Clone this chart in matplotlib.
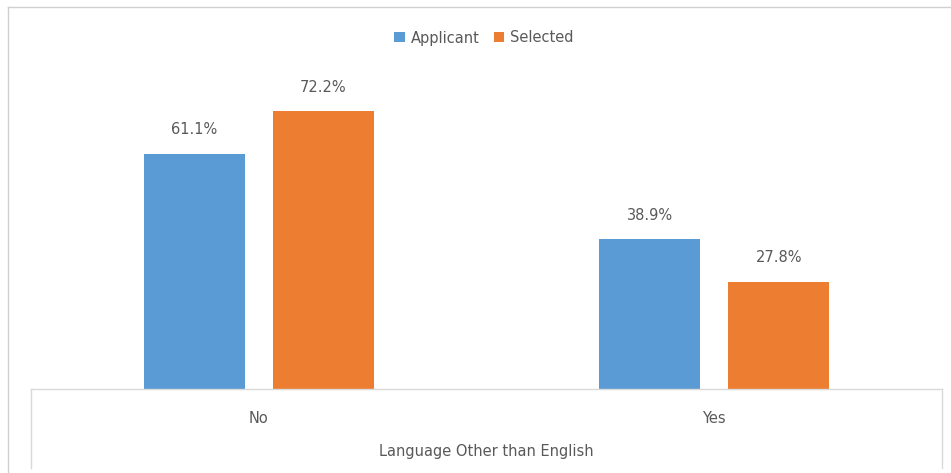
import matplotlib.pyplot as plt
import numpy as np
from matplotlib.lines import Line2D

# data
categories = ['No', 'Yes']
applicant = [61.1, 38.9]
selected = [72.2, 27.8]
series_names = ['Applicant', 'Selected']

blue = '#5B9BD5'
orange = '#ED7D31'
txt = '#595959'

W, H = 951, 473
fig = plt.figure(figsize=(W / 100, H / 100), dpi=100)

# axes placed in pixel terms (left 31, right 942, baseline 389, top 70)
ax = fig.add_axes([31 / W, (H - 389) / H, (942 - 31) / W, (389 - 70) / H])

x = np.arange(len(categories))
bw = 0.221
off = 0.1415
b1 = ax.bar(x - off, applicant, bw, color=blue, label=series_names[0])
b2 = ax.bar(x + off, selected, bw, color=orange, label=series_names[1])

for bars, vals in [(b1, applicant), (b2, selected)]:
    for b, v in zip(bars, vals):
        ax.annotate('%.1f%%' % v, (b.get_x() + b.get_width() / 2, v),
                    xytext=(0, 12), textcoords='offset points',
                    ha='center', va='bottom', fontsize=10.5, color=txt)

ax.set_xlim(-0.5, 1.5)
ax.set_ylim(0, (389 - 70) / 3.846)
ax.set_yticks([])
ax.set_xticks(x)
ax.set_xticklabels(categories, fontsize=10.5, color=txt)
ax.tick_params(axis='x', length=0, pad=16)
for s in ['top', 'left', 'right']:
    ax.spines[s].set_visible(False)
ax.spines['bottom'].set_color('#D9D9D9')
ax.spines['bottom'].set_linewidth(1)

ax.set_xlabel('Language Other than English', fontsize=10.5, color=txt, labelpad=13)

leg = fig.legend(handles=[b1, b2], labels=series_names, loc='center',
                 bbox_to_anchor=(484 / W, (H - 38) / H), ncol=2, frameon=False,
                 fontsize=10.5, handlelength=0.7, handleheight=0.7,
                 handletextpad=0.4, columnspacing=1.0)
for t in leg.get_texts():
    t.set_color(txt)

# inner box lines and outer chart border
def fline(x0, y0, x1, y1, c='#D9D9D9'):
    fig.add_artist(Line2D([x0 / W, x1 / W], [1 - y0 / H, 1 - y1 / H],
                          color=c, lw=1, transform=fig.transFigure))

fline(31, 389, 31, 468)
fline(942, 389, 942, 468)
fline(8, 7, 951, 7, '#D0D0D0')
fline(8, 7, 8, 473, '#D0D0D0')

fig.savefig('out.png', dpi=100)
